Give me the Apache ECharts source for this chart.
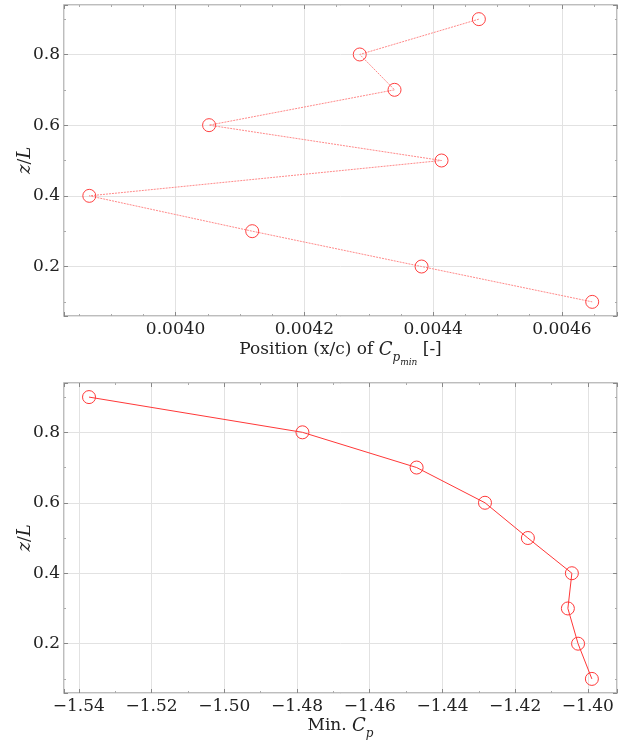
<!DOCTYPE html>
<html>
<head>
<meta charset="utf-8">
<script src="https://cdn.jsdelivr.net/npm/echarts@6/dist/echarts.min.js"></script>
<style>
  html, body { margin: 0; padding: 0; background: #fff; }
  #chart { width: 618px; height: 740px; }
</style>
</head>
<body>
<div id="chart"></div>
<script>
// span-wise stations
const zL = [0.9, 0.8, 0.7, 0.6, 0.5, 0.4, 0.3, 0.2, 0.1]
// position (x/c) of Cp min
const xcCpMin = [0.004471, 0.004286, 0.004340, 0.004052, 0.004413, 0.003866, 0.004119, 0.004382, 0.004647]
// min Cp
const minCp = [-1.5372, -1.4785, -1.4471, -1.4283, -1.4165, -1.4044, -1.4055, -1.4027, -1.3989]

const yRange = [0.06, 0.94]
const xTopRange = [0.0038267, 0.0046855]
const xBotRange = [-1.54408, -1.39199]

const FONT = 'DejaVu Serif'
const TXT = '#222'

const chart = echarts.init(document.getElementById('chart'), null, { renderer: 'canvas' })

function fmtMinus(v, d) {
  return v < 0 ? '\u2212' + Math.abs(v).toFixed(d) : v.toFixed(d)
}

function labelStyle(margin, fmt) {
  return {
    show: true,
    showMinLabel: false,
    showMaxLabel: false,
    fontFamily: FONT,
    fontSize: 17,
    color: TXT,
    margin: margin,
    formatter: fmt
  }
}

function baseAxis(extra) {
  return Object.assign({
    type: 'value',
    nameMoveOverlap: false,
    axisLine: { show: false },
    axisTick: { show: true, inside: true, length: 4, lineStyle: { color: '#888', width: 1 } },
    minorTick: { show: true, splitNumber: 2, length: 2, lineStyle: { color: '#aaa' } },
    splitLine: { show: true, lineStyle: { color: '#e2e2e2', width: 1 } },
    nameTextStyle: { fontFamily: FONT, fontSize: 17, color: TXT }
  }, extra)
}

function mirror(extra) {
  return Object.assign({}, extra, {
    axisLabel: { show: false },
    splitLine: { show: false },
    axisLine: { show: false }
  })
}

const subRich = {
  i: { fontFamily: FONT, fontSize: 18, fontStyle: 'italic', color: TXT, verticalAlign: 'top', lineHeight: 22 },
  s: { fontFamily: FONT, fontSize: 12, fontStyle: 'italic', color: TXT, verticalAlign: 'top', lineHeight: 12, padding: [11, 0, 0, 0] },
  ss: { fontFamily: FONT, fontSize: 9, fontStyle: 'italic', color: TXT, verticalAlign: 'top', lineHeight: 9, padding: [17, 0, 0, 0] },
  n: { fontFamily: FONT, fontSize: 17, color: TXT, verticalAlign: 'top', lineHeight: 22 }
}

const xTop = {
  gridIndex: 0, min: xTopRange[0], max: xTopRange[1], splitNumber: 4,
  minorTick: { show: true, splitNumber: 4, length: 2, lineStyle: { color: '#aaa' } }
}
const xBot = { gridIndex: 1, min: xBotRange[0], max: xBotRange[1], splitNumber: 7 }
const yTop = { gridIndex: 0, min: yRange[0], max: yRange[1], splitNumber: 4 }
const yBot = { gridIndex: 1, min: yRange[0], max: yRange[1], splitNumber: 4 }

const yName = {
  name: '{i|z}{n|/}{i|L}',
  nameLocation: 'middle',
  nameGap: 26,
  nameRotate: 90,
  nameTextStyle: { rich: subRich }
}

const gridBase = { left: 64, right: 1, show: true, borderColor: '#a8a8a8', borderWidth: 1.5, backgroundColor: 'transparent', containLabel: false, outerBoundsMode: 'none' }

chart.setOption({
  animation: false,
  backgroundColor: '#fff',
  grid: [
    Object.assign({ top: 5, height: 311 }, gridBase),
    Object.assign({ top: 383, height: 310 }, gridBase)
  ],
  xAxis: [
    baseAxis(Object.assign({}, xTop, {
      position: 'bottom',
      name: '{n|Position (x/c) of }{i|C}{s|p}{ss|min}{n| [-]}',
      nameLocation: 'middle',
      nameGap: 25,
      nameTextStyle: { rich: subRich },
      axisLabel: labelStyle(5, v => v.toFixed(4))
    })),
    baseAxis(Object.assign({}, xBot, {
      position: 'bottom',
      name: '{n|Min. }{i|C}{s|p}',
      nameLocation: 'middle',
      nameGap: 24,
      nameTextStyle: { rich: subRich },
      axisLabel: labelStyle(5, v => fmtMinus(v, 2))
    })),
    baseAxis(mirror(Object.assign({}, xTop, { position: 'top' }))),
    baseAxis(mirror(Object.assign({}, xBot, { position: 'top' })))
  ],
  yAxis: [
    baseAxis(Object.assign({}, yTop, yName, { axisLabel: labelStyle(4, v => v.toFixed(1)) })),
    baseAxis(Object.assign({}, yBot, yName, { axisLabel: labelStyle(4, v => v.toFixed(1)) })),
    baseAxis(mirror(Object.assign({}, yTop, { position: 'right' }))),
    baseAxis(mirror(Object.assign({}, yBot, { position: 'right' })))
  ],
  series: [
    {
      type: 'line',
      xAxisIndex: 0,
      yAxisIndex: 0,
      data: zL.map((z, i) => [xcCpMin[i], z]),
      symbol: 'circle',
      symbolSize: 13,
      itemStyle: { color: 'rgba(255,255,255,0)', borderColor: '#ff4040', borderWidth: 1 },
      lineStyle: { color: '#ff8a8a', width: 1, type: [2, 1] },
      z: 3
    },
    {
      type: 'line',
      xAxisIndex: 1,
      yAxisIndex: 1,
      data: zL.map((z, i) => [minCp[i], z]),
      symbol: 'circle',
      symbolSize: 13,
      itemStyle: { color: 'rgba(255,255,255,0)', borderColor: '#ff3838', borderWidth: 1 },
      lineStyle: { color: '#ff3838', width: 1 },
      z: 3
    }
  ]
})
</script>
</body>
</html>
